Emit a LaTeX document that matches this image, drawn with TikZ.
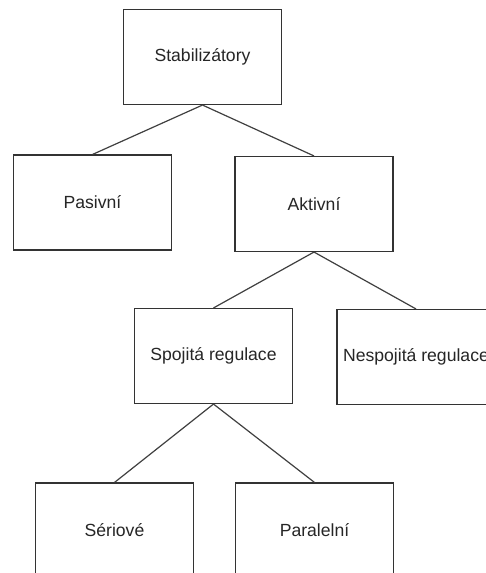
\documentclass[tikz,border=0pt]{standalone}
\usepackage{fontspec}
\setmainfont{Liberation Sans}
\begin{document}
\begin{tikzpicture}[x=1pt,y=-1pt,
  box/.style={draw=black!80, line width=1.1pt, rectangle, minimum width=158pt, minimum height=95pt, inner sep=0pt, font=\fontsize{17.6}{20}\selectfont, text=black!85},
  conn/.style={draw=black!75, line width=1.2pt}]
\useasboundingbox (0,0) rectangle (486,573);
\clip (0,0) rectangle (486,573);
\fill[white] (0,0) rectangle (486,573);
\node[box] (stab) at (202.5,57) {Stabilizátory};
\node[box] (pas) at (92.5,202.5) {Pasivní};
\node[box] (akt) at (314,204) {Aktivní};
\node[box] (spo) at (213.5,356) {Spojitá regulace};
\node[box] (nes) at (416,357) {Nespojitá regulace};
\node[box] (ser) at (114.5,530.5) {Sériové};
\node[box] (par) at (314.5,530.5) {Paralelní};
\draw[conn] (stab.south) -- (pas.north);
\draw[conn] (stab.south) -- (akt.north);
\draw[conn] (akt.south) -- (spo.north);
\draw[conn] (akt.south) -- (nes.north);
\draw[conn] (spo.south) -- (ser.north);
\draw[conn] (spo.south) -- (par.north);
\end{tikzpicture}
\end{document}
